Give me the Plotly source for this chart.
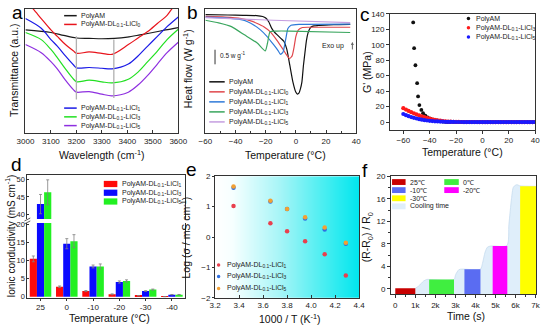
import plotly.graph_objects as go

W, H = 550, 332
FONT = "Liberation Sans, Arial, sans-serif"

# ======================= DATA =======================
# (a) FTIR, transmittance (a.u.)
a_labels = ["PolyAM", "PolyAM-DL<sub>0.1</sub>-LiCl<sub>0</sub>",
            "PolyAM-DL<sub>0.1</sub>-LiCl<sub>1</sub>", "PolyAM-DL<sub>0.1</sub>-LiCl<sub>3</sub>",
            "PolyAM-DL<sub>0.1</sub>-LiCl<sub>5</sub>"]
a_colors = ["#1a1a1a", "#e8141c", "#1a1ae6", "#22e022", "#8e2fe0"]
a_wn_black = [3000, 3100, 3150, 3200, 3250, 3300, 3350, 3400, 3450, 3500, 3550, 3600]
a_t_black = [83.1, 81.0, 78.7, 76.6, 76.3, 76.0, 76.3, 77.3, 79.1, 81.0, 83.1, 85.0]
a_wn_red = [3000, 3030, 3062, 3100, 3125, 3157, 3189, 3201, 3250, 3300, 3340, 3404, 3442, 3480, 3518, 3556, 3575, 3600]
a_t_red = [106, 100, 92.2, 83.1, 77.9, 71.4, 66.1, 64.3, 65.4, 64.3, 63.5, 71.3, 76.6, 81.8, 88.3, 94.8, 100, 106]
a_wn = [3000, 3062, 3100, 3125, 3157, 3189, 3201, 3250, 3300, 3340, 3404, 3442, 3480, 3518, 3556, 3600]
a_t_blue = [92.2, 84.4, 75.3, 70.1, 62.2, 54.9, 52.6, 52.9, 52.3, 51.8, 55.7, 62.2, 70.1, 77.9, 85.7, 93.5]
a_t_green = [81.0, 75.3, 67.4, 60.9, 51.8, 43.5, 41.4, 42.7, 41.4, 40.6, 43.5, 49.2, 57.6, 66.1, 75.3, 83.6]
a_t_purple = [71.4, 64.8, 57.6, 51.8, 42.7, 34.9, 33.1, 33.6, 31.5, 30.2, 33.1, 38.8, 46.6, 55.7, 64.8, 73.2]
a_mark_x = [3200, 3347]
a_mark_lo = [27.3, 28.4]
a_mark_hi = [78.0, 75.3]

# (b) DSC heat flow (W g-1, offset)
b_labels = ["PolyAM", "PolyAM-DL<sub>0.1</sub>-LiCl<sub>0</sub>", "PolyAM-DL<sub>0.1</sub>-LiCl<sub>1</sub>",
            "PolyAM-DL<sub>0.1</sub>-LiCl<sub>3</sub>", "PolyAM-DL<sub>0.1</sub>-LiCl<sub>5</sub>"]
b_colors = ["#111111", "#e0474c", "#2f7ad8", "#3aa65e", "#c59ee0"]
b_T_black = [-60, -45, -35, -26, -22, -20, -18, -16, -14, -12, -10, -8, -6, -4, -2, 0, 1, 2, 3, 4, 5, 6, 7, 8, 9, 10, 12, 15, 25, 36]
b_h_black = [-0.20, -0.21, -0.22, -0.23, -0.26, -0.31, -0.44, -0.67, -0.81, -0.91, -1.01, -1.11, -1.39, -1.94, -2.50,
             -2.86, -2.92, -2.89, -2.74, -2.50, -1.94, -1.50, -1.08, -0.83, -0.70, -0.62, -0.58, -0.57, -0.54, -0.53]
b_T_red = [-60, -47, -36.3, -29.9, -25.6, -21.3, -17.1, -12.8, -8.5, -6.4, -4.2, -2.5, -1.1, 0, 1.7, 4.3, 8.5, 36]
b_h_red = [-0.26, -0.28, -0.33, -0.41, -0.50, -0.61, -0.78, -1.06, -1.39, -1.56, -1.70, -1.61, -1.28, -0.94, -0.72,
           -0.64, -0.63, -0.63]
b_T_blue = [-60, -47, -36.3, -32, -27.7, -23.5, -19.2, -14.9, -11.7, -10.2, -8.5, -6.4, -5.3, -3.2, 2.1, 36]
b_h_blue = [-0.28, -0.31, -0.37, -0.44, -0.56, -0.72, -0.94, -1.22, -1.44, -1.56, -1.48, -0.94, -0.67, -0.56, -0.53, -0.52]
b_T_green = [-60, -51.2, -42.7, -34.1, -25.6, -20.3, -18.8, -17.1, -12.8, -4.2, 36]
b_h_green = [-0.39, -0.48, -0.61, -0.89, -1.17, -1.44, -1.17, -0.78, -0.76, -0.76, -0.81]
b_T_purple = [-60, -14.9, 36]
b_h_purple = [-0.30, -0.39, -0.47]

# (c) storage modulus G' (MPa)
c_labels = ["PolyAM", "PolyAM-DL<sub>0.1</sub>-LiCl<sub>3</sub>", "PolyAM-DL<sub>0.1</sub>-LiCl<sub>5</sub>"]
c_colors = ["#111111", "#ff1a1a", "#1a1aff"]
c_T_black = [-52.5, -51.8, -50.8, -49.5, -48.8, -47.8, -46.3, -45.0, -43.3, -41.5, -39.5, -37.0, -34.5, -32.0, -30.0,
             -28.2, -26.4, -24.5, -22, -20, -18, -16, -14, -12, -10, -8, -6, -4, -2, 0, 2, 4, 6, 8, 10, 12, 14, 16,
             18, 20, 22, 24, 26, 28, 30, 32, 34, 36, 38, 40]
c_G_black = [128.8, 95.5, 73.5, 50.3, 33.2, 22.0, 15.8, 11.6, 8.3, 6.2, 4.6, 3.3, 2.1, 1.2, 0.8,
             0.4, 0.2, 0.1, 0.05, 0.05, 0.05, 0.04, 0.04, 0.04, 0.03, 0.03, 0.03, 0.03, 0.02, 0.02, 0.02, 0.02,
             0.02, 0.02, 0.02, 0.02, 0.02, 0.02, 0.02, 0.02, 0.02, 0.02, 0.02, 0.02, 0.02, 0.02, 0.02, 0.02,
             0.02, 0.02]
c_T = [-60, -58, -56, -54, -52, -50, -48, -46, -44, -42, -40, -38, -36, -34, -32, -30, -28, -26, -24, -22, -20,
       -18, -16, -14, -12, -10, -8, -6, -4, -2, 0, 2, 4, 6, 8, 10, 12, 14, 16, 18, 20, 22, 24, 26, 28, 30, 32,
       34, 36, 38, 40]
c_G_red = [18.0, 16.2, 14.5, 12.9, 11.4, 10.0, 8.7, 7.5, 6.4, 5.4, 4.5, 3.7, 3.0, 2.4, 1.9, 1.5, 1.1, 0.8, 0.6,
           0.4, 0.3, 0.25, 0.2, 0.2, 0.2, 0.18, 0.18, 0.17, 0.16, 0.15, 0.15, 0.14, 0.14, 0.13, 0.13, 0.12, 0.12,
           0.12, 0.11, 0.11, 0.11, 0.1, 0.1, 0.1, 0.1, 0.1, 0.1, 0.1, 0.1, 0.1, 0.1]
c_G_blue = [10.5, 9.0, 7.7, 6.6, 5.6, 4.7, 3.9, 3.2, 2.6, 2.1, 1.7, 1.4, 1.1, 0.9, 0.7, 0.55, 0.45, 0.35, 0.3,
            0.25, 0.2, 0.18, 0.16, 0.15, 0.14, 0.13, 0.12, 0.11, 0.1, 0.1, 0.1, 0.09, 0.09, 0.08, 0.08, 0.08,
            0.07, 0.07, 0.07, 0.06, 0.06, 0.06, 0.05, 0.05, 0.05, 0.05, 0.05, 0.05, 0.05, 0.05, 0.05]

# (d) ionic conductivity (mS cm-1)
d_labels = ["PolyAM-DL<sub>0.1</sub>-LiCl<sub>1</sub>", "PolyAM-DL<sub>0.1</sub>-LiCl<sub>3</sub>",
            "PolyAM-DL<sub>0.1</sub>-LiCl<sub>5</sub>"]
d_colors = ["#ff0a0a", "#0a0aff", "#22f022"]
d_cats = ["25", "0", "-10", "-20", "-30", "-40"]
d_red = [10.5, 2.8, 1.6, 0.7, 0.3, 0.05]
d_red_err = [0.8, 0.2, 0.15, 0.12, 0.05, 0.02]
d_blue = [43.0, 14.7, 8.4, 4.1, 1.6, 0.6]
d_blue_err = [2.7, 1.4, 0.4, 0.3, 0.1, 0.05]
d_green = [46.3, 15.4, 8.4, 4.4, 2.0, 0.6]
d_green_err = [3.5, 1.8, 0.7, 0.3, 0.15, 0.05]

# (e) Arrhenius plot
e_labels = d_labels
e_colors = ["#e8404e", "#2f6fe0", "#f2a033"]
e_x = [3.354, 3.661, 3.800, 3.950, 4.113, 4.289]
e_red = [1.02, 0.45, 0.19, -0.14, -0.57, -1.27]
e_blue = [1.62, 1.17, 0.92, 0.61, 0.25, -0.22]
e_orange = [1.66, 1.19, 0.92, 0.65, 0.31, -0.19]
e_bg_x = [3.2, 4.4]
e_bg_y = [-2, 2]
e_bg_z = [[0, 1], [0, 1]]

# (f) resistance change vs time
f_labels = ["25℃", "0℃", "-10℃", "-20℃", "-30℃", "Cooling time"]
f_colors = ["#c80000", "#40ee40", "#5a6cf2", "#ff00ff", "#ffff00"]
f_start = [0, 1690, 3450, 4860, 6230]
f_end = [1000, 2930, 4250, 5590, 7040]
f_top = [0.1, 1.67, 3.5, 7.6, 18.2]
f_cool_t = [1000, 1170, 1410, 1570, 1700, 2930, 3010, 3170, 3330, 4250, 4350, 4480, 4600, 4760, 5570, 5670, 5800,
            5900, 6070, 6200, 7000]
f_cool_v = [0.1, 0.5, 1.38, 1.67, 1.67, 1.67, 2.5, 3.4, 3.5, 3.5, 4.5, 6.5, 7.4, 7.6, 7.7, 11.4, 16.0, 18.1,
            18.5, 18.3, 18.2]
f_xticks = [0, 1000, 2000, 3000, 4000, 5000, 6000, 7000]
f_xtext = ["0", "1k", "2k", "3k", "4k", "5k", "6k", "7k"]
f_ymin = -0.9

# ======================= FIGURE =======================
fig = go.Figure()


def xd(x0, x1):
    return [x0 / W, x1 / W]


def yd(y0, y1):
    return [1 - y1 / H, 1 - y0 / H]


def px(x, y):
    return x / W, 1 - y / H


# (a)
for wn, t, c in zip([a_wn_black, a_wn_red, a_wn, a_wn, a_wn],
                    [a_t_black, a_t_red, a_t_blue, a_t_green, a_t_purple], a_colors):
    fig.add_trace(go.Scatter(x=wn, y=t, mode="lines", xaxis="x", yaxis="y", hoverinfo="skip",
                             line=dict(color=c, width=1.2, shape="spline", smoothing=0.9)))

# (b)
for T, h, c in zip([b_T_black, b_T_red, b_T_blue, b_T_green, b_T_purple],
                   [b_h_black, b_h_red, b_h_blue, b_h_green, b_h_purple], b_colors):
    fig.add_trace(go.Scatter(x=T, y=h, mode="lines", xaxis="x2", yaxis="y2", hoverinfo="skip",
                             line=dict(color=c, width=1.2, shape="spline", smoothing=0.5)))

# (c)
fig.add_trace(go.Scatter(x=c_T_black, y=c_G_black, mode="markers", xaxis="x3", yaxis="y3", hoverinfo="skip",
                         marker=dict(color=c_colors[0], size=3.8, symbol="circle")))
fig.add_trace(go.Scatter(x=c_T, y=c_G_red, mode="markers", xaxis="x3", yaxis="y3", hoverinfo="skip",
                         marker=dict(color=c_colors[1], size=4.2, symbol="circle")))
fig.add_trace(go.Scatter(x=c_T, y=c_G_blue, mode="markers", xaxis="x3", yaxis="y3", hoverinfo="skip",
                         marker=dict(color=c_colors[2], size=4.2, symbol="circle")))

# (d) broken axis: lower (x4/y4) and upper (x7/y7)
for xa, ya in [("x4", "y4"), ("x7", "y7")]:
    for vals, errs, c in zip([d_red, d_blue, d_green], [d_red_err, d_blue_err, d_green_err], d_colors):
        fig.add_trace(go.Bar(x=d_cats, y=vals, xaxis=xa, yaxis=ya, hoverinfo="skip",
                             marker=dict(color=c, line=dict(width=0)),
                             error_y=dict(type="data", array=errs, color="#808080", thickness=0.8, width=1.5)))

# (e)
fig.add_trace(go.Heatmap(x=e_bg_x, y=e_bg_y, z=e_bg_z, xaxis="x5", yaxis="y5", showscale=False, zsmooth="best",
                         hoverinfo="skip",
                         colorscale=[[0, "#ffffff"], [0.12, "#f6ffff"], [0.45, "#a6f5f7"], [0.75, "#4aeef1"],
                                     [1, "#00e6ee"]]))
for vals, c in zip([e_red, e_blue, e_orange], e_colors):
    fig.add_trace(go.Scatter(x=e_x, y=vals, mode="markers", xaxis="x5", yaxis="y5", hoverinfo="skip",
                             marker=dict(color=c, size=4.5)))

# (f) cooling fill underneath, bars on an overlaying y axis so they sit on top
fig.add_trace(go.Scatter(x=[f_cool_t[0], f_cool_t[-1]], y=[f_ymin, f_ymin], mode="lines", xaxis="x6", yaxis="y6",
                         line=dict(width=0, color="rgba(0,0,0,0)"), hoverinfo="skip"))
fig.add_trace(go.Scatter(x=f_cool_t, y=f_cool_v, mode="lines", xaxis="x6", yaxis="y6", fill="tonexty",
                         fillcolor="#dfeefa", line=dict(color="#c6dcef", width=0.8, shape="spline", smoothing=0.7),
                         hoverinfo="skip"))
fig.add_trace(go.Bar(x=[(s + e) / 2 for s, e in zip(f_start, f_end)],
                     y=[t - f_ymin for t in f_top], base=f_ymin,
                     width=[e - s for s, e in zip(f_start, f_end)],
                     marker=dict(color=f_colors, line=dict(width=0)), xaxis="x6", yaxis="y8", hoverinfo="skip"))

# ======================= AXES =======================
def ax(**kw):
    d = dict(showline=True, linecolor="#333", linewidth=1, mirror=True, ticks="outside", ticklen=3, tickwidth=1,
             tickcolor="#333", showgrid=False, zeroline=False, tickfont=dict(size=8, color="#222"), fixedrange=True)
    d.update(kw)
    return d


layout_axes = dict(
    xaxis=ax(domain=xd(17, 175), range=[3000, 3600], tick0=3000, dtick=100, anchor="y", ticks="inside"),
    yaxis=ax(domain=yd(5, 133), range=[0, 100], showticklabels=False, ticks="", anchor="x"),
    xaxis2=ax(domain=xd(203, 359), range=[-60, 40], tick0=-60, dtick=20, anchor="y2", ticks="inside",
              minor=dict(dtick=10, ticklen=2, ticks="inside", tickcolor="#333")),
    yaxis2=ax(domain=yd(5, 133), range=[-4.267, 0], showticklabels=False, ticks="", anchor="x2"),
    xaxis3=ax(domain=xd(394, 544), range=[-70, 40], tick0=-60, dtick=20, anchor="y3"),
    yaxis3=ax(domain=yd(10, 129), range=[-9.5, 140], tick0=0, dtick=20, anchor="x3"),
    xaxis4=ax(domain=xd(19, 182), type="category", categoryorder="array", categoryarray=d_cats,
              range=[-0.5, 5.5], anchor="y4", mirror=False, ticklen=2),
    yaxis4=ax(domain=yd(225, 302), range=[-0.27, 20.45], tickvals=[0, 5, 10, 15, 20], anchor="x4",
              ticks="inside", ticklen=2, tickfont=dict(size=7.5, color="#222")),
    xaxis7=ax(domain=xd(19, 182), type="category", categoryorder="array", categoryarray=d_cats,
              range=[-0.5, 5.5], anchor="y7", side="top", mirror=False, ticks="", showticklabels=False),
    yaxis7=ax(domain=yd(176, 221), range=[38.83, 51.09], tickvals=[40, 45, 50], anchor="x7",
              ticks="inside", ticklen=2, tickfont=dict(size=7.5, color="#222")),
    xaxis5=ax(domain=xd(213, 362), range=[3.2, 4.4], tick0=3.2, dtick=0.2, anchor="y5", tickformat=".1f",
              ticks="inside"),
    yaxis5=ax(domain=yd(177, 302), range=[-2, 2], dtick=1, anchor="x5", ticklen=2),
    xaxis6=ax(domain=xd(395, 545), range=[-210, 7030], tickvals=f_xticks, ticktext=f_xtext, anchor="y6",
              minor=dict(dtick=500, tick0=0, ticklen=2, ticks="outside", tickcolor="#333")),
    yaxis6=ax(domain=yd(177, 298), range=[f_ymin, 20], tickvals=[0, 4, 8, 12, 16, 20], anchor="x6",
              minor=dict(dtick=2, tick0=0, ticklen=2, ticks="outside", tickcolor="#333")),
    yaxis8=dict(overlaying="y6", anchor="x6", range=[f_ymin, 20], visible=False, showgrid=False, zeroline=False,
                fixedrange=True),
)

fig.update_layout(width=W, height=H, margin=dict(l=0, r=0, t=0, b=0), showlegend=False,
                  paper_bgcolor="white", plot_bgcolor="rgba(0,0,0,0)", barmode="group", bargap=0.18,
                  bargroupgap=0, font=dict(family=FONT, size=8, color="#111"), **layout_axes)

shapes = []
annos = []


def text(x, y, s, size=7, xanchor="left", angle=0, color="#222"):
    xx, yy = px(x, y)
    annos.append(dict(x=xx, y=yy, xref="paper", yref="paper", text=s, showarrow=False, xanchor=xanchor,
                      yanchor="middle", textangle=angle, font=dict(size=size, color=color, family=FONT)))


def leg_line(x0, x1, y, color, label, width=1.5):
    a0, b0 = px(x0, y)
    a1, _ = px(x1, y)
    shapes.append(dict(type="line", xref="paper", yref="paper", x0=a0, x1=a1, y0=b0, y1=b0,
                       line=dict(color=color, width=width)))
    text(x1 + 2, y, label)


def leg_box(x0, x1, y0, y1, color, label, tx=None):
    a0, b0 = px(x0, y1)
    a1, b1 = px(x1, y0)
    shapes.append(dict(type="rect", xref="paper", yref="paper", x0=a0, x1=a1, y0=b0, y1=b1,
                       fillcolor=color, line=dict(width=0)))
    text(tx if tx else x1 + 3, (y0 + y1) / 2, label)


def leg_dot(x, y, color, label, r=1.8, tx=None):
    a0, b0 = px(x - r, y + r)
    a1, b1 = px(x + r, y - r)
    shapes.append(dict(type="circle", xref="paper", yref="paper", x0=a0, x1=a1, y0=b0, y1=b1,
                       fillcolor=color, line=dict(width=0)))
    text(tx if tx else x + 6, y, label)


# panel letters
for s, x, y in [("a", 1, 9), ("b", 182, 9), ("c", 361, 11), ("d", 0, 165), ("e", 181, 170), ("f", 363, 171)]:
    text(x, y, s, size=19, color="#000")

# axis titles
text(96, 155, "Wavelength (cm<sup>-1</sup>)", size=10.5, xanchor="center", color="#111")
text(5, 68, "Transmittance (a.u.)", size=10.5, xanchor="center", angle=-90, color="#111")
text(286, 155, "Temperature (°C)", size=10.5, xanchor="center", color="#111")
text(184, 66, "Heat flow (W g<sup>-1</sup>)", size=10.5, xanchor="center", angle=-90, color="#111")
text(469, 152, "Temperature (°C)", size=10.5, xanchor="center", color="#111")
text(370, 70, "G' (MPa)", size=10.5, xanchor="center", angle=-90, color="#111")
text(104, 323, "Temperature (°C)", size=10.5, xanchor="center", color="#111")
text(1, 238, "Ionic conductivity (mS cm<sup>-1</sup>)", size=10, xanchor="center", angle=-90, color="#111")
text(290, 323, "1000 / T (K<sup>-1</sup>)", size=10.5, xanchor="center", color="#111")
text(182, 240, "Log (σ / mS cm<sup>-1</sup>)", size=10.5, xanchor="center", angle=-90, color="#111")
text(472, 321, "Time (s)", size=10.5, xanchor="center", color="#111")
text(371, 240, "(R-R<sub>0</sub>) / R<sub>0</sub>", size=10.5, xanchor="center", angle=-90, color="#111")

# (a) legend and markers
leg_line(57, 70, 12, a_colors[0], a_labels[0])
leg_line(57, 70, 21, a_colors[1], a_labels[1])
leg_line(57, 70, 107, a_colors[2], a_labels[2])
leg_line(57, 70, 116, a_colors[3], a_labels[3])
leg_line(57, 70, 125, a_colors[4], a_labels[4])
for mx, lo, hi in zip(a_mark_x, a_mark_lo, a_mark_hi):
    shapes.append(dict(type="line", xref="x", yref="y", x0=mx, x1=mx, y0=lo, y1=hi,
                       line=dict(color="#b0b0b0", width=1.3)))

# (b) legend, scale bar, exo up
for i, y in enumerate([80, 90.3, 100.6, 110.9, 121.2]):
    leg_line(207, 223, y, b_colors[i], b_labels[i])
shapes.append(dict(type="line", xref="x2", yref="y2", x0=-53.6, x1=-53.6, y0=-1.4, y1=-1.9,
                   line=dict(color="#333", width=1)))
text(216, 53, "0.5 w g<sup>-1</sup>", size=6.5)
text(322, 43, "Exo up", size=7)
xa, ya = px(355, 39)
annos.append(dict(x=xa, y=ya, xref="paper", yref="paper", ax=0, ay=9, showarrow=True, arrowhead=2,
                  arrowsize=0.6, arrowwidth=1, arrowcolor="#666", text=""))

# (c) legend
for i, y in enumerate([15, 24.3, 34]):
    leg_dot(475, y, c_colors[i], c_labels[i], tx=481)

# (d) legend and break marks
for i, y in enumerate([185, 194, 203]):
    leg_box(98, 112, y - 3.2, y + 3.2, d_colors[i], d_labels[i], tx=115)
for yy in [221.5, 224.5]:
    a0, b0 = px(16, yy + 1.5)
    a1, b1 = px(22, yy - 1.5)
    shapes.append(dict(type="line", xref="paper", yref="paper", x0=a0, x1=a1, y0=b0, y1=b1,
                       line=dict(color="#333", width=0.8)))

# (e) legend
for i, y in enumerate([268.3, 280, 292.3]):
    leg_dot(216.7, y, e_colors[i], e_labels[i], tx=223)

# (f) legend
leg_box(396, 410, 180, 186, f_colors[0], f_labels[0], tx=412)
leg_box(450, 465, 180, 186, f_colors[1], f_labels[1], tx=467)
leg_box(396, 410, 188.3, 194.3, f_colors[2], f_labels[2], tx=412)
leg_box(450, 465, 188.3, 194.3, f_colors[3], f_labels[3], tx=467)
leg_box(396, 410, 196.7, 202.7, f_colors[4], f_labels[4], tx=412)
leg_box(396, 410, 205, 211, "#dfeefa", f_labels[5], tx=412)

fig.update_layout(shapes=shapes, annotations=annos)
fig.write_html("out.html")
